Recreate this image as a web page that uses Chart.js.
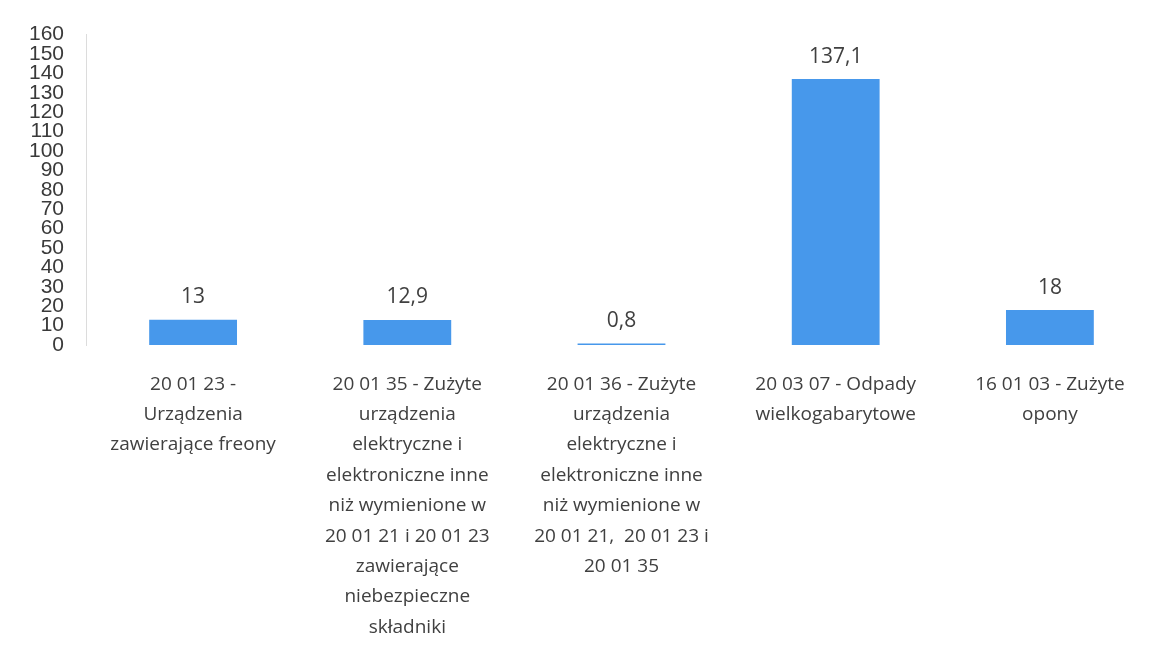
<!DOCTYPE html>
<html>
<head>
<meta charset="utf-8">
<script src="https://cdn.jsdelivr.net/npm/chart.js@4"></script>
<style>
  html, body { margin: 0; padding: 0; background: #fff; }
  #wrap { width: 1174px; height: 646px; }
</style>
</head>
<body>
<div id="wrap"><canvas id="myChart"></canvas></div>
<script>
var categories = [
    ['20 01 23 -', 'Urządzenia', 'zawierające freony'],
    ['20 01 35 - Zużyte', 'urządzenia', 'elektryczne i', 'elektroniczne inne', 'niż wymienione w', '20 01 21 i 20 01 23', 'zawierające', 'niebezpieczne', 'składniki'],
    ['20 01 36 - Zużyte', 'urządzenia', 'elektryczne i', 'elektroniczne inne', 'niż wymienione w', '20 01 21,  20 01 23 i', '20 01 35'],
    ['20 03 07 - Odpady', 'wielkogabarytowe'],
    ['16 01 03 - Zużyte', 'opony']
];
var values = [13, 12.9, 0.8, 137.1, 18];
var yMax = 160;
var yStep = 10;

Chart.defaults.color = '#404040';

// value labels above the bars, Polish decimal comma
var barLabels = {
    id: 'barLabels',
    afterDatasetsDraw: function (chart) {
        var ctx = chart.ctx;
        var meta = chart.getDatasetMeta(0);
        ctx.save();
        ctx.font = '21px "Open Sans"';
        ctx.fillStyle = '#404040';
        ctx.textAlign = 'center';
        ctx.textBaseline = 'bottom';
        meta.data.forEach(function (bar, i) {
            var txt = String(values[i]).replace('.', ',');
            ctx.fillText(txt, bar.x, bar.y - 12);
        });
        ctx.restore();
    }
};

var ctx = document.getElementById('myChart');
var myChart = new Chart(ctx, {
    type: 'bar',
    data: {
        labels: categories,
        datasets: [{
            data: values,
            backgroundColor: '#4798eb',
            categoryPercentage: 1,
            barPercentage: 0.41
        }]
    },
    plugins: [barLabels],
    options: {
        responsive: true,
        maintainAspectRatio: false,
        animation: false,
        layout: {
            padding: { top: 30, right: 17, left: 0, bottom: 0 }
        },
        plugins: {
            legend: { display: false },
            tooltip: { enabled: false }
        },
        scales: {
            x: {
                grid: { display: false, drawTicks: false },
                border: { display: false },
                ticks: {
                    padding: 24,
                    maxRotation: 0,
                    autoSkip: false,
                    font: { family: '"Open Sans"', size: 19, lineHeight: 1.6 },
                    color: '#404040'
                },
                afterFit: function (scale) { scale.height = 301; }
            },
            y: {
                min: 0,
                max: yMax,
                grid: { display: false, drawTicks: false },
                border: { display: true, color: '#dcdcdc' },
                ticks: {
                    stepSize: yStep,
                    autoSkip: false,
                    padding: 22,
                    font: { family: '"Liberation Sans"', size: 21 },
                    color: '#3a3a3a'
                },
                afterFit: function (scale) { scale.width = 86; }
            }
        }
    }
});
</script>
</body>
</html>
